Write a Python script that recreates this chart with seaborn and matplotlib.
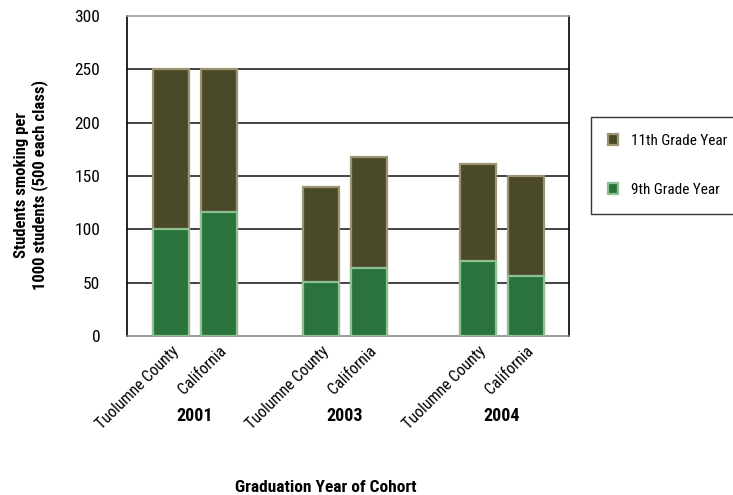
import numpy as np
import pandas as pd
import matplotlib
matplotlib.use("Agg")
import matplotlib.pyplot as plt
import matplotlib.transforms as mtransforms
from matplotlib.patches import Patch
import seaborn as sns

# data
places = ["Tuolumne County", "California", "Tuolumne County", "California", "Tuolumne County", "California"]
years = ["2001", "2003", "2004"]
ninth = [100, 116, 51, 64, 70, 56]
eleventh = [150, 134, 89, 104, 91, 94]

# layout: slot positions of the bars (groups separated by a gap)
pos = [0, 1, 3.125, 4.125, 6.4, 7.4]

sns.set_theme(style="white")
plt.rcParams['font.family'] = ['Roboto Condensed', 'Barlow Semi Condensed', 'Liberation Sans', 'DejaVu Sans']
plt.rcParams['text.color'] = 'black'
plt.rcParams['xtick.color'] = 'black'
plt.rcParams['ytick.color'] = 'black'

df = pd.DataFrame({'pos': pos, 'place': places, 'ninth': ninth, 'eleventh': eleventh})
df['total'] = df['ninth'] + df['eleventh']

fig = plt.figure(figsize=(7.33, 4.95), dpi=100)
ax = fig.add_axes([0.173, 0.321, 0.603, 0.647])

# stacked: draw total (11th on top) then 9th over it
sns.barplot(data=df, x='pos', y='total', native_scale=True, width=0.75,
            color='#4b4a28', edgecolor='#9d9471', linewidth=1.6, saturation=1, ax=ax, zorder=3)
sns.barplot(data=df, x='pos', y='ninth', native_scale=True, width=0.75,
            color='#2b733d', edgecolor='#8fbf94', linewidth=1.6, saturation=1, ax=ax, zorder=4)

ax.set_ylim(0, 300)
ax.set_xlim(-0.917, 8.29)
ax.set_yticks(range(0, 301, 50))
ax.set_yticklabels([str(v) for v in range(0, 301, 50)], fontsize=12.5)
ax.tick_params(axis='y', length=0, pad=19)
ax.tick_params(axis='x', length=0, pad=5)
ax.set_xticks(pos)
ax.set_xticklabels(places, rotation=45, ha='right', rotation_mode='anchor', fontsize=11.5)
for y in range(50, 300, 50):
    ax.axhline(y, color='#222222', lw=1.2, zorder=1)
ax.spines['left'].set_color('black')
ax.spines['right'].set_color('black')
ax.spines['top'].set_color('#999999')
ax.spines['bottom'].set_color('#888888')
for s in ax.spines.values():
    s.set_linewidth(1.2)
ax.set_xlabel('')
ax.set_ylabel('')

# group year labels
trans = mtransforms.blended_transform_factory(ax.transData, fig.transFigure)
for i, yr in enumerate(years):
    xc = (pos[2 * i] + pos[2 * i + 1]) / 2
    ax.text(xc, 1 - 416 / 495, yr, transform=trans, ha='center', va='center',
            fontsize=13, fontweight='bold')

fig.text(0.445, 1 - 487 / 495, 'Graduation Year of Cohort', ha='center', va='center',
         fontsize=12.5, fontweight='bold')
fig.text(0.042, 1 - 185 / 495, 'Students smoking per\n1000 students (500 each class)',
         rotation=90, ha='center', va='center', fontsize=12, fontweight='bold', linespacing=1.2)

handles = [Patch(facecolor='#4b4a28', edgecolor='#9d9471', linewidth=1.6, label='11th Grade Year'),
           Patch(facecolor='#2b733d', edgecolor='#8fbf94', linewidth=1.6, label='9th Grade Year')]
leg = fig.legend(handles=handles, loc='upper left', bbox_to_anchor=(591 / 733, 1 - 117 / 495),
                 frameon=True, fancybox=False, fontsize=11, handlelength=0.65, handleheight=0.65,
                 labelspacing=2.3, borderpad=1.1, handletextpad=0.9, borderaxespad=0)
leg.get_frame().set_edgecolor('black')
leg.get_frame().set_linewidth(1.0)

fig.savefig('out.png', dpi=100)
